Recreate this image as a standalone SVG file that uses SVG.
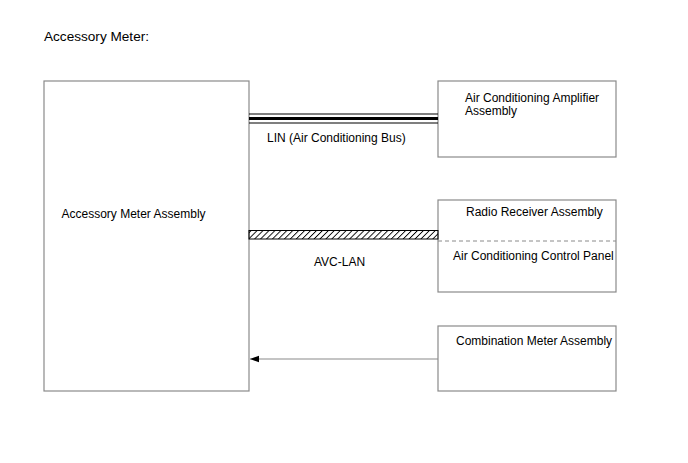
<svg xmlns="http://www.w3.org/2000/svg" width="688" height="463" viewBox="0 0 688 463">
<style>
text{font-family:"Liberation Sans",Arial,sans-serif;font-size:12px;fill:#000}
.title{font-size:13.6px}
.box{fill:#fff;stroke:#8a8a8a;stroke-width:1.2}
.dash{stroke:#8a8a8a;stroke-width:1;stroke-dasharray:4,3;fill:none}
</style>
<defs>
<pattern id="hatch" patternUnits="userSpaceOnUse" width="4.2" height="4.2" patternTransform="rotate(45)">
<line x1="0" y1="0" x2="0" y2="4.2" stroke="#000" stroke-width="1.8"/>
</pattern>
<marker id="arr" markerWidth="10" markerHeight="8" refX="9" refY="4" orient="auto" markerUnits="userSpaceOnUse">
<path d="M0,0.8 L9,4 L0,7.2 Z" fill="#000"/>
</marker>
</defs>
<rect width="688" height="463" fill="#fff"/>
<text class="title" x="44" y="41">Accessory Meter:</text>
<g id="accessory-meter-assembly">
<rect class="box" x="44" y="81" width="205" height="310"/>
<text x="61.5" y="218">Accessory Meter Assembly</text>
</g>
<g id="ac-amplifier">
<rect class="box" x="438" y="81" width="178" height="76"/>
<text x="465" y="102">Air Conditioning Amplifier</text>
<text x="465" y="115">Assembly</text>
</g>
<g id="radio-receiver">
<rect class="box" x="438" y="200" width="178" height="92"/>
<line class="dash" x1="438" y1="241" x2="616" y2="241"/>
<text x="466" y="216">Radio Receiver Assembly</text>
<text x="453" y="259.5">Air Conditioning Control Panel</text>
</g>
<g id="combination-meter">
<rect class="box" x="438" y="326" width="178" height="65"/>
<text x="456" y="345">Combination Meter Assembly</text>
</g>
<g id="connectors">
<line x1="249" y1="114" x2="438" y2="114" stroke="#000" stroke-width="1.2"/>
<line x1="249" y1="118.5" x2="438" y2="118.5" stroke="#000" stroke-width="3"/>
<line x1="249" y1="123" x2="438" y2="123" stroke="#000" stroke-width="1.2"/>
<text x="267" y="142">LIN (Air Conditioning Bus)</text>
<rect x="249" y="230.5" width="189" height="8.5" fill="url(#hatch)" stroke="#000" stroke-width="1"/>
<text x="314" y="266">AVC-LAN</text>
<line x1="438" y1="359" x2="250" y2="359" stroke="#8a8a8a" stroke-width="1.2" marker-end="url(#arr)"/>
</g>
</svg>
